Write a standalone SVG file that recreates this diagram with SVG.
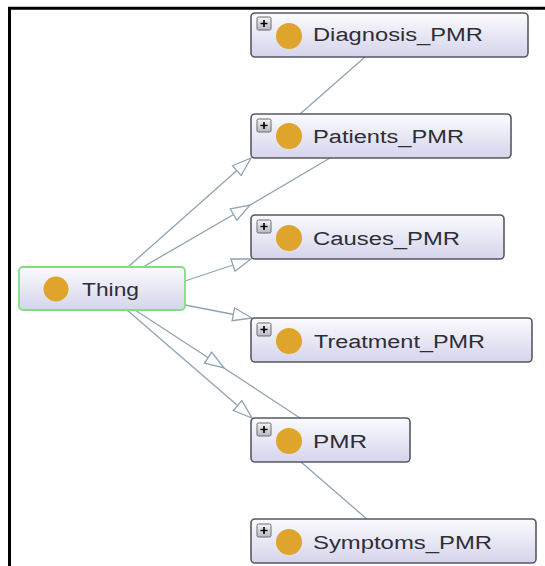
<svg xmlns="http://www.w3.org/2000/svg" width="545" height="566" viewBox="0 0 545 566">
<style>
.bg{fill:#ffffff}
.frame{fill:none;stroke:#000;stroke-width:3}
.edge{fill:none;stroke:#8fa3b3;stroke-width:1.3}
.box{fill:url(#boxg);stroke:#555a60;stroke-width:1.6}
.root{fill:url(#boxg);stroke:#86dc86;stroke-width:1.8}
.dot{fill:#dfa42b}
.lbl{font-family:"Liberation Sans",Arial,sans-serif;font-size:18px;fill:#2e2e36}
.pbox{fill:url(#plusg);stroke:#6a6a70;stroke-width:1}
.plus{stroke:#000;stroke-width:1.6}
</style>
<defs>
<linearGradient id="boxg" x1="0" y1="0" x2="0" y2="1">
<stop offset="0" stop-color="#fbfbfe"/>
<stop offset="1" stop-color="#d5d4ec"/>
</linearGradient>
<linearGradient id="plusg" x1="0" y1="0" x2="0" y2="1">
<stop offset="0" stop-color="#f4f4f6"/>
<stop offset="1" stop-color="#b8b8c4"/>
</linearGradient>
<marker id="tri" markerUnits="userSpaceOnUse" markerWidth="22" markerHeight="16" viewBox="0 0 22 16" refX="20" refY="8" orient="auto">
<path d="M1,1.5 L20,8 L1,14.5 Z" fill="#ffffff" stroke="#8fa3b3" stroke-width="1.3"/>
</marker>
<g id="plusicon">
<rect class="pbox" x="0" y="0" width="14" height="13" rx="1.5"/>
<path class="plus" d="M3.5,6.5 H10.5 M7,3 V10"/>
</g>
</defs>
<rect class="bg" x="0" y="0" width="545" height="566"/>
<path class="frame" d="M9.5,566 V8.2 H545"/>
<g id="connectors">
<line class="edge" x1="128" y1="267" x2="251" y2="158" marker-end="url(#tri)"/>
<polyline class="edge" points="143,267 250,205 330,158" marker-mid="url(#tri)"/>
<line class="edge" x1="300" y1="114" x2="365" y2="57"/>
<line class="edge" x1="185" y1="281" x2="251" y2="259" marker-end="url(#tri)"/>
<line class="edge" x1="185" y1="305" x2="252" y2="318" marker-end="url(#tri)"/>
<line class="edge" x1="127" y1="310" x2="252" y2="418" marker-end="url(#tri)"/>
<polyline class="edge" points="135,310 224,368 300,418" marker-mid="url(#tri)"/>
<line class="edge" x1="301" y1="462" x2="368" y2="520"/>
</g>
<g id="node-diagnosis">
<rect class="box" x="251" y="13" width="277" height="44" rx="4"/>
<use href="#plusicon" x="257" y="17"/>
<circle class="dot" cx="289" cy="36" r="13"/>
<text class="lbl" x="313" y="41" textLength="170" lengthAdjust="spacingAndGlyphs">Diagnosis_PMR</text>
</g>
<g id="node-patients">
<rect class="box" x="251" y="114" width="260" height="44" rx="4"/>
<use href="#plusicon" x="257" y="119"/>
<circle class="dot" cx="289" cy="136" r="13"/>
<text class="lbl" x="313" y="143" textLength="151" lengthAdjust="spacingAndGlyphs">Patients_PMR</text>
</g>
<g id="node-causes">
<rect class="box" x="251" y="215" width="253" height="44" rx="4"/>
<use href="#plusicon" x="257" y="220"/>
<circle class="dot" cx="289" cy="238" r="13"/>
<text class="lbl" x="313" y="245" textLength="147" lengthAdjust="spacingAndGlyphs">Causes_PMR</text>
</g>
<g id="node-thing">
<rect class="root" x="19" y="267" width="166" height="43" rx="4"/>
<circle class="dot" cx="56" cy="289" r="12.5"/>
<text class="lbl" x="82" y="296" textLength="57" lengthAdjust="spacingAndGlyphs">Thing</text>
</g>
<g id="node-treatment">
<rect class="box" x="251" y="318" width="281" height="44" rx="4"/>
<use href="#plusicon" x="257" y="323"/>
<circle class="dot" cx="289" cy="341" r="13"/>
<text class="lbl" x="314" y="348" textLength="171" lengthAdjust="spacingAndGlyphs">Treatment_PMR</text>
</g>
<g id="node-pmr">
<rect class="box" x="251" y="418" width="159" height="44" rx="4"/>
<use href="#plusicon" x="257" y="423"/>
<circle class="dot" cx="289" cy="441" r="13"/>
<text class="lbl" x="313" y="448" textLength="54" lengthAdjust="spacingAndGlyphs">PMR</text>
</g>
<g id="node-symptoms">
<rect class="box" x="251" y="519" width="285" height="44" rx="4"/>
<use href="#plusicon" x="257" y="524"/>
<circle class="dot" cx="289" cy="542" r="13"/>
<text class="lbl" x="313" y="549" textLength="179" lengthAdjust="spacingAndGlyphs">Symptoms_PMR</text>
</g>
</svg>
